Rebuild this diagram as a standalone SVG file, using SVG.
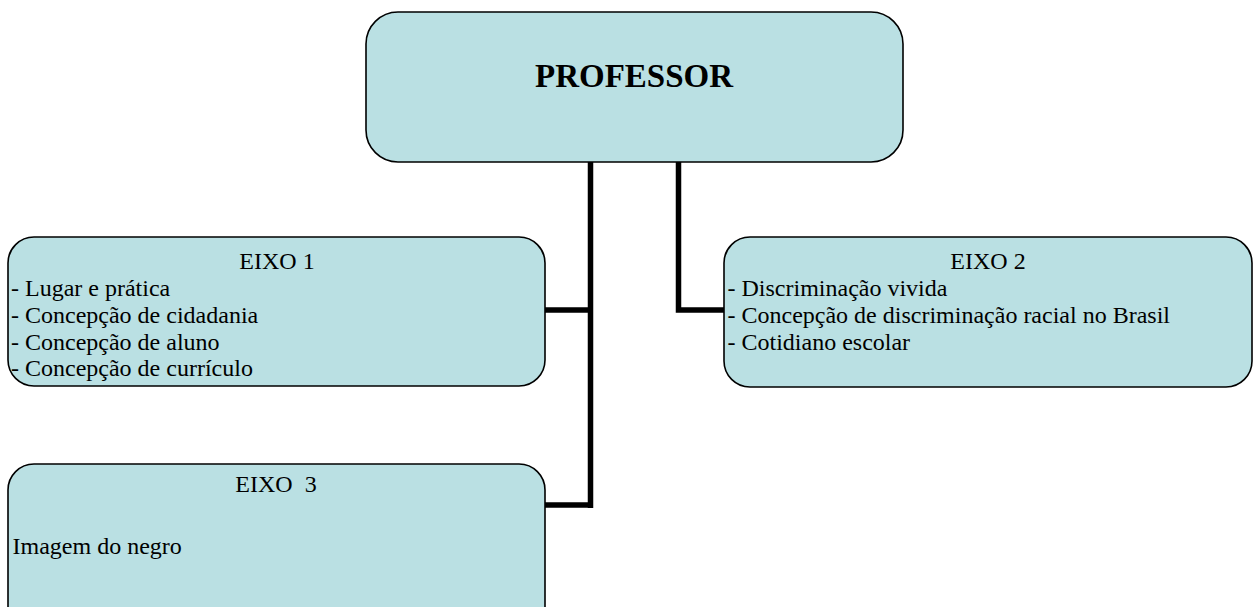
<svg xmlns="http://www.w3.org/2000/svg" width="1253" height="607" viewBox="0 0 1253 607">
<style>
.box{fill:#bae0e3;stroke:#000;stroke-width:1.6}
.t{font-family:"Liberation Serif","Times New Roman",serif;font-size:24px;fill:#000}
.c{text-anchor:middle}
.title{font-family:"Liberation Serif","Times New Roman",serif;font-size:33px;font-weight:bold;fill:#000;text-anchor:middle}
.conn{fill:none;stroke:#000;stroke-width:5.5;stroke-linejoin:miter}
</style>
<rect width="1253" height="607" fill="#fff"/>
<g id="connectors">
<path class="conn" d="M590.5 162 V508 M545 310 H590.5 M545 505 H590.5"/>
<path class="conn" d="M678.5 162 V310 H724"/>
</g>
<g id="professor">
<rect class="box" x="366" y="12" width="537" height="150" rx="32" ry="32"/>
<text class="title" x="634" y="87">PROFESSOR</text>
</g>
<g id="eixo1">
<rect class="box" x="8" y="237" width="537" height="149" rx="26" ry="26"/>
<text class="t c" x="277" y="269">EIXO 1</text>
<text class="t" x="11" y="296">- Lugar e prática</text>
<text class="t" x="11" y="323">- Concepção de cidadania</text>
<text class="t" x="11" y="349.5">- Concepção de aluno</text>
<text class="t" x="11" y="376">- Concepção de currículo</text>
</g>
<g id="eixo2">
<rect class="box" x="724" y="237" width="528" height="150" rx="26" ry="26"/>
<text class="t c" x="988" y="269">EIXO 2</text>
<text class="t" x="727.5" y="296">- Discriminação vivida</text>
<text class="t" x="727.5" y="322.5">- Concepção de discriminação racial no Brasil</text>
<text class="t" x="727.5" y="349.5">- Cotidiano escolar</text>
</g>
<g id="eixo3">
<rect class="box" x="8" y="464" width="537" height="170" rx="26" ry="26"/>
<text class="t c" x="276" y="492" xml:space="preserve">EIXO  3</text>
<text class="t" x="12.5" y="553.5">Imagem do negro</text>
</g>
</svg>
